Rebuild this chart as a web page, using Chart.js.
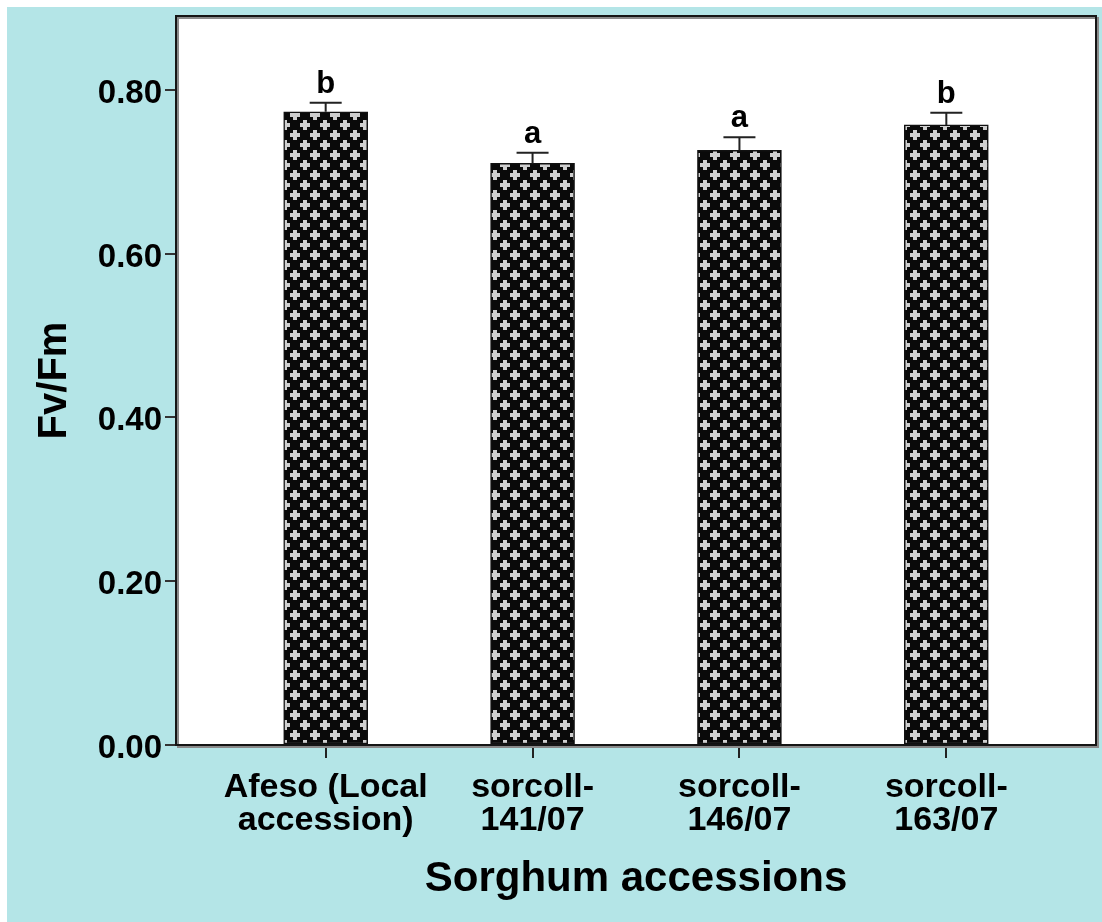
<!DOCTYPE html>
<html>
<head>
<meta charset="utf-8">
<script src="https://cdn.jsdelivr.net/npm/chart.js@4.4.1/dist/chart.umd.min.js"></script>
<style>
  html, body { margin: 0; padding: 0; background: #fff; }
  #wrap { width: 1102px; height: 922px; }
</style>
</head>
<body>
<div id="wrap"><canvas id="c" width="1102" height="922"></canvas></div>
<script>
// Fv/Fm of four sorghum accessions (mean with upper error limit)
const categories = [
  ["Afeso (Local", "accession)"],
  ["sorcoll-", "141/07"],
  ["sorcoll-", "146/07"],
  ["sorcoll-", "163/07"]
];
const meanFvFm = [0.773, 0.710, 0.726, 0.757];
const upperLimit = [0.784, 0.723, 0.742, 0.772];
const groupLetters = ["b", "a", "a", "b"];
const yTickValues = [0, 0.2, 0.4, 0.6, 0.8];

const FONT = "'Liberation Sans', Arial, Helvetica, sans-serif";
const canvas = document.getElementById('c');
const ctx = canvas.getContext('2d');

// black fill with light plus signs on a staggered grid
function plusPattern() {
  const t = document.createElement('canvas');
  t.width = 20; t.height = 20;
  const g = t.getContext('2d');
  g.fillStyle = '#0a0a0a';
  g.fillRect(0, 0, 20, 20);
  g.fillStyle = '#cfcfcf';
  const plus = (cx, cy) => {
    g.fillRect(cx - 5, cy - 2, 10, 4);
    g.fillRect(cx - 2, cy - 5, 4, 10);
  };
  plus(5, 5);
  plus(15, 15);
  return ctx.createPattern(t, 'repeat');
}

const decor = {
  id: 'decor',
  beforeDraw(chart) {
    const c = chart.ctx, a = chart.chartArea;
    c.save();
    c.fillStyle = '#ffffff';
    c.fillRect(0, 0, chart.width, chart.height);
    c.fillStyle = '#b4e5e7';
    c.fillRect(7, 7, chart.width - 7, chart.height - 7);
    c.fillStyle = '#ffffff';
    c.fillRect(a.left, a.top, a.right - a.left, a.bottom - a.top);
    c.restore();
  },
  afterDatasetsDraw(chart) {
    const c = chart.ctx;
    const y = chart.scales.y;
    const meta = chart.getDatasetMeta(0);
    c.save();
    meta.data.forEach((bar, i) => {
      const top = y.getPixelForValue(upperLimit[i]);
      c.strokeStyle = '#222';
      c.lineWidth = 2;
      c.beginPath();
      c.moveTo(bar.x, bar.y);
      c.lineTo(bar.x, top);
      c.moveTo(bar.x - 16, top);
      c.lineTo(bar.x + 16, top);
      c.stroke();
      c.fillStyle = '#000';
      c.font = 'bold 31px ' + FONT;
      c.textAlign = 'center';
      c.textBaseline = 'alphabetic';
      c.fillText(groupLetters[i], bar.x, top - 10);
    });
    c.restore();
  },
  afterDraw(chart) {
    const c = chart.ctx, a = chart.chartArea;
    c.save();
    c.strokeStyle = '#8a8a8a';
    c.lineWidth = 2;
    c.strokeRect(a.left + 2, a.top + 2, a.right - a.left, a.bottom - a.top);
    c.strokeStyle = '#151515';
    c.lineWidth = 2;
    c.strokeRect(a.left, a.top, a.right - a.left, a.bottom - a.top);
    c.restore();
  }
};

new Chart(ctx, {
  type: 'bar',
  data: {
    datasets: [{
      data: meanFvFm.map((v, i) => ({ x: i, y: v })),
      backgroundColor: plusPattern(),
      borderColor: '#111',
      borderWidth: 1.5,
      borderSkipped: false,
      barThickness: 84
    }]
  },
  options: {
    responsive: false,
    animation: false,
    devicePixelRatio: 1,
    layout: { padding: { left: 0, top: 16, right: 6, bottom: 0 } },
    plugins: { legend: { display: false }, tooltip: { enabled: false } },
    scales: {
      x: {
        type: 'linear',
        min: -0.7235,
        max: 3.7235,
        offset: false,
        afterBuildTicks: s => { s.ticks = categories.map((_, i) => ({ value: i })); },
        afterFit: s => { s.height = 177; },
        border: { display: false },
        grid: { offset: false, drawOnChartArea: false, drawTicks: true, tickLength: 13, color: '#222', lineWidth: 2 },
        ticks: {
          callback: v => categories[v],
          color: '#000',
          padding: 13,
          maxRotation: 0,
          autoSkip: false,
          font: { family: FONT, size: 34, weight: 'bold', lineHeight: 0.97 }
        },
        title: {
          display: true,
          text: 'Sorghum accessions',
          color: '#000',
          padding: { top: 0, bottom: 17 },
          font: { family: FONT, size: 42, weight: 'bold', lineHeight: 1.2 }
        }
      },
      y: {
        min: 0,
        max: 0.89,
        afterBuildTicks: s => { s.ticks = yTickValues.map(v => ({ value: v })); },
        afterFit: s => { s.width = 176; s.paddingTop = 0; s.paddingBottom = 0; },
        border: { display: false },
        grid: { drawOnChartArea: false, drawTicks: true, tickLength: 11, color: '#333', lineWidth: 2 },
        ticks: {
          callback: v => v.toFixed(2),
          color: '#000',
          padding: 3,
          labelOffset: 4,
          font: { family: FONT, size: 33, weight: 'bold' }
        },
        title: {
          display: true,
          text: 'Fv/Fm',
          color: '#000',
          padding: { top: 31, bottom: 0 },
          font: { family: FONT, size: 40, weight: 'bold', lineHeight: 1.2 }
        }
      }
    }
  },
  plugins: [decor]
});
</script>
</body>
</html>
